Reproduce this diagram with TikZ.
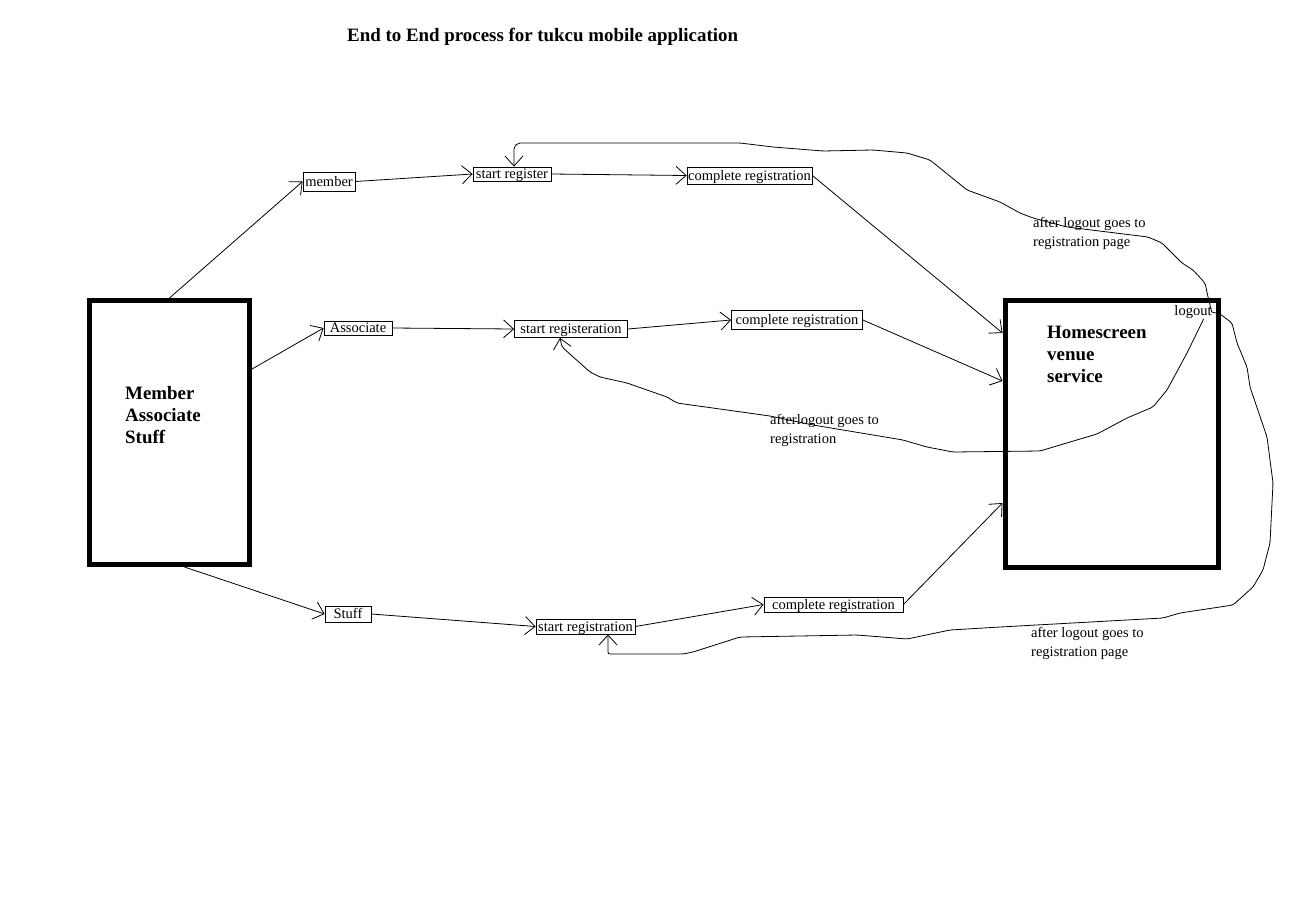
\documentclass[tikz,border=0pt]{standalone}
\usepackage{fontspec}
\setmainfont{Liberation Serif}
\usetikzlibrary{arrows.meta}
\begin{document}
\begin{tikzpicture}[x=1pt,y=-1pt,
  smallbox/.style={draw, line width=0.8pt, inner sep=0pt, font=\fontsize{14.5}{19}\selectfont, text height=10pt, text depth=1pt},
  bigbox/.style={draw, line width=5pt, inner sep=0pt},
  boldtxt/.style={font=\fontsize{18.9}{22}\selectfont\bfseries, align=left, anchor=base west, inner sep=0pt},
  lbl/.style={font=\fontsize{14.5}{19}\selectfont, align=left, anchor=base west, inner sep=0pt},
  arr/.style={line width=0.8pt, -{Straight Barb[length=10pt,width=18pt]}},
  fb/.style={arr, rounded corners=2pt},
]
\useasboundingbox (0,0) rectangle (1300,916);
\fill[white] (0,0) rectangle (1300,916);

% title
\node[boldtxt] (title) at (347,41) {End to End process for tukcu mobile application};

% big boxes
\node[bigbox, minimum width=160pt, minimum height=264pt] (L) at (169.5,432.5) {};
\node[boldtxt] (Ltxt) at (125,443) {Member\\Associate\\Stuff};
\node[bigbox, minimum width=213.5pt, minimum height=266.5pt] (H) at (1111.75,433.75) {};
\node[boldtxt] (Htxt) at (1047,382) {Homescreen\\venue\\service};
\node[lbl, anchor=center] (lo) at (1193,312) {logout};

% small boxes
\node[smallbox, minimum width=52pt, minimum height=19pt] (mem) at (329,181.5) {member};
\node[smallbox, minimum width=78pt, minimum height=14pt] (sr) at (512,174) {start register};
\node[smallbox, minimum width=125pt, minimum height=17pt] (cr1) at (749.5,175.5) {complete registration};

\node[smallbox, minimum width=68pt, minimum height=14pt] (as) at (358,328) {Associate};
\node[smallbox, minimum width=113pt, minimum height=17pt] (sreg) at (571,329) {start registeration};
\node[smallbox, minimum width=131pt, minimum height=19pt] (cr2) at (797,320) {complete registration};

\node[smallbox, minimum width=46pt, minimum height=16pt] (st) at (348,614) {Stuff};
\node[smallbox, minimum width=99pt, minimum height=15pt] (srb) at (585.5,626.5) {start registration};
\node[smallbox, minimum width=139pt, minimum height=15pt] (cr3) at (833.5,604.5) {complete registration};

% labels
\node[lbl] (t1) at (1033,246) {after logout goes to\\registration page};
\node[lbl] (t2) at (770,443) {afterlogout goes to\\registration};
\node[lbl] (t3) at (1031,656) {after logout goes to\\registration page};

% straight connectors
\draw[arr] (L.north) -- (mem.west);
\draw[arr] (mem.east) -- (sr.west);
\draw[arr] (sr.east) -- (cr1.west);
\draw[arr] (cr1.east) -- ([yshift=-35pt]H.north west);
\draw[arr] ([yshift=-71pt]L.north east) -- (as.west);
\draw[arr] (as.east) -- (sreg.west);
\draw[arr] (sreg.east) -- (cr2.west);
\draw[arr] (cr2.east) -- ([yshift=-83pt]H.north west);
\draw[arr] ([xshift=15pt]L.south) -- (st.west);
\draw[arr] (st.east) -- (srb.west);
\draw[arr] (srb.east) -- (cr3.west);
\draw[arr] (cr3.east) -- ([yshift=-205pt]H.north west);

% feedback curves
\draw[fb] (lo.east) -- (1208,297) -- (1205,283) -- (1193,270) -- (1182,263) -- (1162,243) -- (1148,237)
  -- (1067,227) -- (1033,218) -- (1020,213) -- (1000,202) -- (967,190) -- (930,160) -- (907,153)
  -- (873,150) -- (823,151) -- (773,147) -- (740,143) -- (640,143) -- (518,143) -- (514,147)
  -- ([xshift=2pt]sr.north);
\draw[fb] ([xshift=-8pt]lo.south east) -- (1187,353) -- (1167,390) -- (1153,407) -- (1127,418)
  -- (1097,434) -- (1070,442) -- (1040,451) -- (953,452) -- (927,447) -- (903,440) -- (813,425)
  -- (770,416) -- (677,403) -- (667,397) -- (627,383) -- (600,377) -- (590,372) -- (562,347)
  -- ([xshift=-11pt]sreg.south);
\draw[fb] (lo.east) -- (1220,314) -- (1232,323) -- (1237,343) -- (1247,367) -- (1250,387)
  -- (1267,437) -- (1273,483) -- (1270,543) -- (1263,570) -- (1253,587) -- (1233,605)
  -- (1180,613) -- (1163,618) -- (1000,627) -- (950,630) -- (907,639) -- (857,635) -- (740,637)
  -- (693,652) -- (683,654) -- (608,654) -- ([xshift=22.5pt]srb.south);
\end{tikzpicture}
\end{document}
